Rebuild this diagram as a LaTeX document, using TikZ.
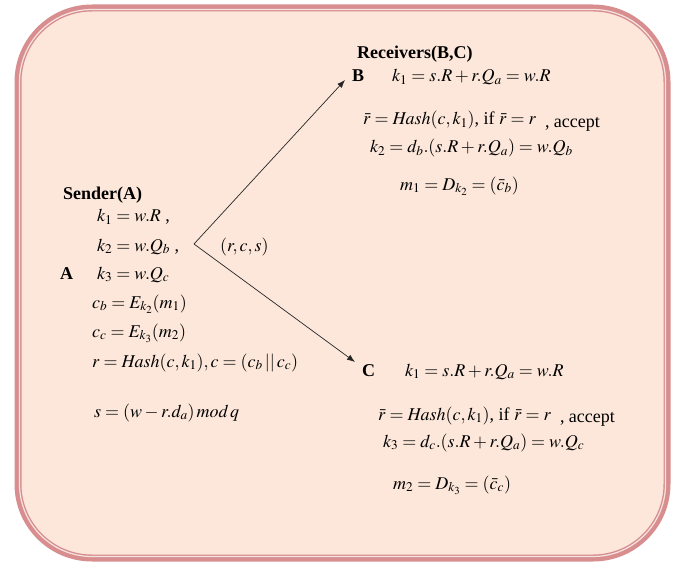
\documentclass[tikz,border=0pt]{standalone}
\usepackage{mathptmx}
\usepackage[no-math]{fontspec}
\setmainfont{Liberation Serif}
\usetikzlibrary{arrows.meta,positioning}
\definecolor{peach}{HTML}{FCE7DA}
\definecolor{rosy}{HTML}{D88E8E}
\tikzset{
  eq/.style={anchor=base west,inner sep=0pt,font=\fontsize{18}{20}\selectfont},
  who/.style={anchor=base west,inner sep=0pt,font=\fontsize{18}{20}\selectfont\bfseries},
  msg/.style={-{Latex[length=8pt,width=6pt]},line width=0.7pt,black!85}
}

\begin{document}
\begin{tikzpicture}[x=1pt,y=-1pt]
    \useasboundingbox (0,0) rectangle (683,567);
    \draw[rosy,fill=peach,line width=7pt,rounded corners=74pt] (18,8) rectangle (667,558);
    \draw[rosy!25!white,line width=1.2pt,rounded corners=72.5pt] (19.5,9.5) rectangle (665.5,556.5);

    % sender side
    \node[who] (sender) at (63,200) {Sender(A)};
    \node[eq] (ska) at (97,222) {$k_1 = w.R$ ,};
    \node[eq] (skb) at (97,251) {$k_2 = w.Q_b$ ,};
    \node[who] (nodeA) at (60,279) {A};
    \node[eq] (skc) at (97,279) {$k_3 = w.Q_c$};
    \node[eq] (scb) at (92,308) {$c_b = E_{k_2}(m_1)$};
    \node[eq] (scc) at (92,337) {$c_c = E_{k_3}(m_2)$};
    \node[eq] (shash) at (92,367) {$r = \mathit{Hash}(c,k_1), c = (c_b \,||\, c_c)$};
    \node[eq] (ssig) at (94,417) {$s = (w - r.d_a)\,\mathit{mod}\,q$};
    \node[eq] (triple) at (220,251) {$(r,c,s)$};

    % receiver B
    \node[who] (recv) at (357,59) {Receivers(B,C)};
    \node[who] (nodeB) at (352,82) {B};
    \node[eq] (bka) at (392,82) {$k_1 = s.R + r.Q_a = w.R$};
    \node[eq] (bhash) at (363,125) {$\bar{r} = \mathit{Hash}(c,k_1)$, if $\bar{r} = r$\enspace\raisebox{-2pt}{, accept}};
    \node[eq] (bkb) at (370,153) {$k_2 = d_b.(s.R + r.Q_a) = w.Q_b$};
    \node[eq] (bmsg) at (400,190) {$m_1 = D_{k_2} = (\bar{c}_b)$};

    % receiver C
    \node[who] (nodeC) at (362,376) {C};
    \node[eq] (cka) at (405,376) {$k_1 = s.R + r.Q_a = w.R$};
    \node[eq] (chash) at (378,420) {$\bar{r} = \mathit{Hash}(c,k_1)$, if $\bar{r} = r$\enspace\raisebox{-2pt}{, accept}};
    \node[eq] (ckc) at (383,447) {$k_3 = d_c.(s.R + r.Q_a) = w.Q_c$};
    \node[eq] (cmsg) at (393,489) {$m_2 = D_{k_3} = (\bar{c}_c)$};

    % messages
    \coordinate (fork) at (194,244);
    \coordinate (toB) at (345,80);
    \coordinate (toC) at (355,362);
    \draw[msg] (fork) -- (toB);
    \draw[msg] (fork) -- (toC);
\end{tikzpicture}
\end{document}
